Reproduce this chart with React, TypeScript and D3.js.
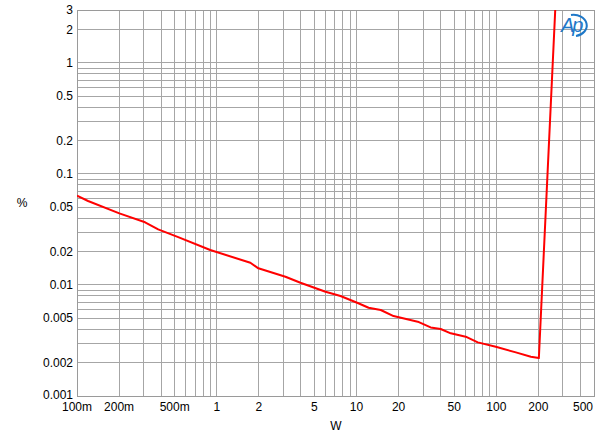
import * as d3 from 'd3';

const power = [0.1, 0.12, 0.201, 0.307, 0.381, 0.53, 0.898, 1.739, 1.984, 3.1, 3.97, 6.0, 7.68, 10.3, 12.2, 14.9, 18.4, 27.4, 33.9, 40.0, 47.2, 60.4, 73.7, 99.2, 138, 176.7, 201.6, 264, 270];
const thdn = [0.0637, 0.0571, 0.0442, 0.0367, 0.0317, 0.027, 0.02065, 0.01587, 0.01413, 0.01187, 0.01048, 0.0087, 0.00796, 0.00684, 0.00624, 0.00595, 0.00525, 0.00467, 0.00415, 0.00401, 0.00367, 0.00342, 0.00304, 0.00278, 0.00247, 0.00226, 0.0022, 3, 5];

const xTicks = [0.1, 0.2, 0.5, 1, 2, 5, 10, 20, 50, 100, 200, 500];
const xTickLabels = ['100m', '200m', '500m', '1', '2', '5', '10', '20', '50', '100', '200', '500'];
const yTicks = [3, 2, 1, 0.5, 0.2, 0.1, 0.05, 0.02, 0.01, 0.005, 0.002, 0.001];
const yTickLabels = ['3', '2', '1', '0.5', '0.2', '0.1', '0.05', '0.02', '0.01', '0.005', '0.002', '0.001'];

const W = 600, H = 433;
const left = 77, right = 594, top = 10, bottom = 396;

export default function App() {
  const x = d3.scaleLog().domain([0.1, 500]).range([left, right]);
  const y = d3.scaleLog().domain([0.001, 3]).range([bottom, top]);

  const xGrid: number[] = [];
  [0.1, 1, 10, 100].forEach((d) => {
    for (let k = 1; k <= 9; k++) {
      const v = d * k;
      if (v <= 500.0001) xGrid.push(v);
    }
  });
  const yGrid: number[] = [];
  [0.001, 0.01, 0.1, 1].forEach((d) => {
    for (let k = 1; k <= 9; k++) {
      const v = d * k;
      if (v <= 3.0001) yGrid.push(v);
    }
  });

  const line = d3.line<number>()
    .x((_, i) => x(power[i]))
    .y((d) => y(d));

  const font = "'Liberation Sans', Arial, sans-serif";

  return (
    <svg width={W} height={H} style={{ position: 'absolute', left: 0, top: 0, background: '#fff' }}>
      <defs>
        <clipPath id="plot">
          <rect x={left} y={top} width={right - left} height={bottom - top} />
        </clipPath>
      </defs>
      <rect x={0} y={0} width={W} height={H} fill="#fff" />
      <g shapeRendering="crispEdges" stroke="#a6a6a6" strokeWidth={1}>
        {xGrid.map((v, i) => (
          <line key={'x' + i} x1={x(v)} x2={x(v)} y1={top} y2={bottom} />
        ))}
        {yGrid.map((v, i) => (
          <line key={'y' + i} x1={left} x2={right} y1={y(v)} y2={y(v)} />
        ))}
        <rect x={left} y={top} width={right - left} height={bottom - top} fill="none" stroke="#9a9a9a" />
      </g>
      <path d={line(thdn) ?? ''} fill="none" stroke="#ff0000" strokeWidth={2} strokeLinejoin="round" clipPath="url(#plot)" />
      <g fontFamily={font} fontSize={12} fill="#000">
        {yTicks.map((v, i) => (
          <text key={'yt' + i} x={left - 4} y={y(v) - (i === yTicks.length - 1 ? 1 : 0)} textAnchor="end" dominantBaseline="central">{yTickLabels[i]}</text>
        ))}
        {xTicks.map((v, i) => (
          <text key={'xt' + i} x={i === xTicks.length - 1 ? right - 1 : x(v)} y={411} textAnchor={i === xTicks.length - 1 ? 'end' : 'middle'}>{xTickLabels[i]}</text>
        ))}
        <text x={22} y={207} textAnchor="middle">%</text>
        <text x={336} y={430} textAnchor="middle">W</text>
      </g>
      <g transform="translate(561,13)">
        <text x={0} y={19} fontFamily={font} fontSize={20} fontStyle="italic" fill="#1e78c8" letterSpacing={-2}>Ap</text>
        <path d="M 10 2 A 13 10.5 0 1 1 15 23" fill="none" stroke="#1e78c8" strokeWidth={2} />
      </g>
    </svg>
  );
}
